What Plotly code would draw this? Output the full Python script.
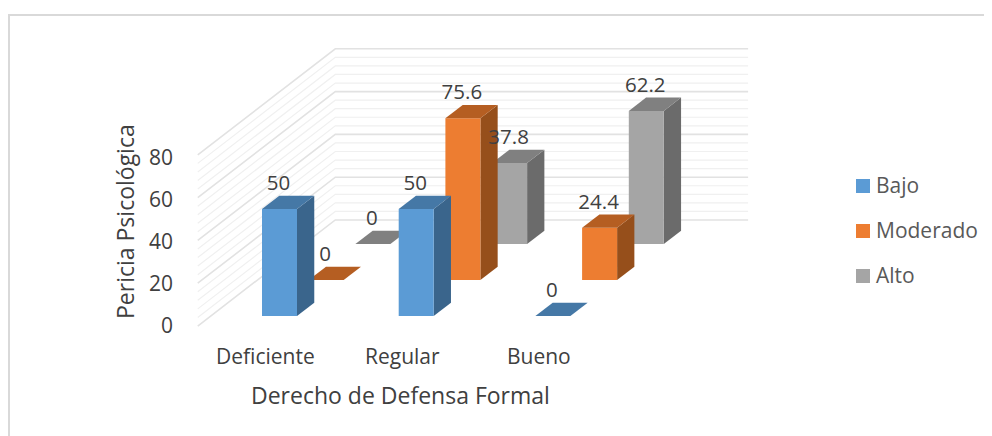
import plotly.graph_objects as go

categories = ["Deficiente", "Regular", "Bueno"]
series_names = ["Bajo", "Moderado", "Alto"]
bajo = [50, 50, 0]
moderado = [0, 75.6, 24.4]
alto = [0, 37.8, 62.2]
y_ticks = [0, 20, 40, 60, 80]
x_title = "Derecho de Defensa Formal"
y_title = "Pericia Psicológica"

values = [bajo, moderado, alto]
FRONT = ["#5B9BD5", "#ED7D31", "#A5A5A5"]
TOP = ["#4578A6", "#B55E22", "#808080"]
SIDE = ["#3A658C", "#964F1B", "#6B6B6B"]
FONT = "Open Sans"

# Oblique projection: category position u, series depth d, value v -> page pixels
X0, Y0, CAT, DX, DY, SCALE = 262.0, 316.0, 136.7, 46.7, 36.0, 2.14
BAR_W, BAR_D = 0.256, 0.37
WALL_U0, WALL_U1, WALL_D0, WALL_D1 = -0.375, 2.645, -0.278, 2.667


def proj(u, d, v):
    return X0 + CAT * u + DX * d, Y0 - DY * d - SCALE * v


def poly(points):
    pts = [proj(*p) for p in points]
    pts.append(pts[0])
    return [p[0] for p in pts], [p[1] for p in pts]


fig = go.Figure()

# gridlines on side and back walls
for v in range(0, 81, 4):
    major = v % 20 == 0
    xs, ys = zip(*[proj(WALL_U0, WALL_D0, v), proj(WALL_U0, WALL_D1, v), proj(WALL_U1, WALL_D1, v)])
    fig.add_trace(go.Scatter(
        x=xs, y=ys, mode="lines", showlegend=False, hoverinfo="skip",
        line=dict(color="#E2E2E2" if major else "#F0F0F0", width=1.6 if major else 1.2),
    ))

# bars, back to front
for j in range(2, -1, -1):
    for i in range(len(categories)):
        v = values[j][i]
        u0, u1, d0, d1 = i, i + BAR_W, j, j + BAR_D
        faces = []
        if v > 0:
            faces.append(([(u1, d0, 0), (u1, d1, 0), (u1, d1, v), (u1, d0, v)], SIDE[j]))
            faces.append(([(u0, d0, 0), (u1, d0, 0), (u1, d0, v), (u0, d0, v)], FRONT[j]))
        faces.append(([(u0, d0, v), (u1, d0, v), (u1, d1, v), (u0, d1, v)], TOP[j]))
        for pts, color in faces:
            xs, ys = poly(pts)
            fig.add_trace(go.Scatter(
                x=xs, y=ys, mode="lines", fill="toself", fillcolor=color,
                line=dict(width=0, color=color), showlegend=False,
                name=series_names[j],
                hoverinfo="text", text=f"{categories[i]}, {series_names[j]}: {v}",
            ))

# data labels
for j in range(3):
    for i in range(len(categories)):
        v = values[j][i]
        x, y = proj(i + BAR_W / 2, j, v)
        fig.add_trace(go.Scatter(
            x=[x - 1], y=[y - 24], mode="text", text=[str(v)], textposition="middle center",
            textfont=dict(family=FONT, size=20.5, color="#404040"),
            showlegend=False, hoverinfo="skip",
        ))

# value tick labels
TICK_Y0, TICK_STEP = 325.0, 2.1
for t in y_ticks:
    x, _ = proj(WALL_U0, WALL_D0, t)
    fig.add_annotation(x=x - 23, y=TICK_Y0 - TICK_STEP * t, text=str(t), showarrow=False,
                       xanchor="right", yanchor="middle",
                       font=dict(family=FONT, size=21, color="#404040"))

# category tick labels
for i, c in enumerate(categories):
    x, y = proj(i + BAR_W / 2, 0, 0)
    fig.add_annotation(x=x - 14, y=y + 40, text=c, showarrow=False, xanchor="center", yanchor="middle",
                       font=dict(family=FONT, size=21, color="#404040"))

fig.add_annotation(x=400, y=395, text=x_title, showarrow=False, xanchor="center", yanchor="middle",
                   font=dict(family=FONT, size=23, color="#404040"))
fig.add_annotation(x=125, y=222, text=y_title, textangle=-90, showarrow=False, xanchor="center", yanchor="middle",
                   font=dict(family=FONT, size=23, color="#404040"))

# legend keys and names
LEG_KEY_X, LEG_TEXT_X, LEG_Y0, LEG_STEP = 863, 876, 186, 45
for j, name in enumerate(series_names):
    y = LEG_Y0 + LEG_STEP * j
    fig.add_trace(go.Scatter(
        x=[LEG_KEY_X], y=[y], mode="markers", name=name, showlegend=False, hoverinfo="skip",
        marker=dict(symbol="square", size=14, color=FRONT[j]),
    ))
    fig.add_trace(go.Scatter(
        x=[LEG_TEXT_X], y=[y + 2], mode="text", text=[name], textposition="middle right",
        textfont=dict(family=FONT, size=21, color="#595959"), showlegend=False, hoverinfo="skip",
    ))

# chart frame
fig.add_shape(type="line", x0=9, x1=9, y0=15, y1=436, line=dict(color="#D9D9D9", width=2))
fig.add_shape(type="line", x0=8, x1=992, y0=15, y1=15, line=dict(color="#D9D9D9", width=2))

# The page sets the figure 8px in from its corner, so the axes start at 8 to read in page pixels
fig.update_layout(
    width=984, height=428, margin=dict(l=0, r=0, t=0, b=0),
    paper_bgcolor="white", plot_bgcolor="white", showlegend=False,
    xaxis=dict(range=[8, 992], visible=False, fixedrange=True),
    yaxis=dict(range=[436, 8], visible=False, fixedrange=True),
)
fig.write_html("out.html")
